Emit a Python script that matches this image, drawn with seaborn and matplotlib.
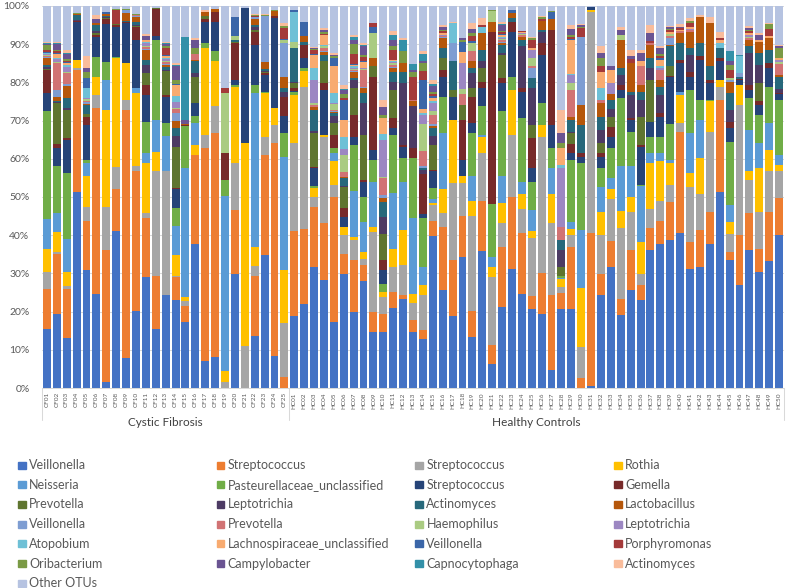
import numpy as np
import pandas as pd
import matplotlib.pyplot as plt
from matplotlib.patches import Rectangle
import seaborn as sns

cf_samples = ['CF01', 'CF02', 'CF03', 'CF04', 'CF05', 'CF06', 'CF07', 'CF08', 'CF09', 'CF10',
              'CF11', 'CF12', 'CF13', 'CF14', 'CF15', 'CF16', 'CF17', 'CF18', 'CF19', 'CF20',
              'CF21', 'CF22', 'CF23', 'CF24', 'CF25']
hc_samples = ['HC01', 'HC02', 'HC03', 'HC04', 'HC05', 'HC06', 'HC07', 'HC08', 'HC09', 'HC10',
              'HC11', 'HC12', 'HC13', 'HC14', 'HC15', 'HC16', 'HC17', 'HC18', 'HC19', 'HC20',
              'HC21', 'HC22', 'HC23', 'HC24', 'HC25', 'HC26', 'HC27', 'HC28', 'HC29', 'HC30',
              'HC31', 'HC32', 'HC33', 'HC34', 'HC35', 'HC36', 'HC37', 'HC38', 'HC39', 'HC40',
              'HC41', 'HC42', 'HC43', 'HC44', 'HC45', 'HC46', 'HC47', 'HC48', 'HC49', 'HC50']
samples = cf_samples + hc_samples

# relative abundance (%) per OTU, CF01..CF25 then HC01..HC50
veillonella_1 = [15.5, 19.4, 13.1, 51.4, 30.9, 24.6, 1.6, 41.0, 7.9, 20.1, 29.1, 15.5, 24.3, 23.0, 17.4, 37.6, 7.1, 8.1, 0, 29.8, 0, 13.5, 34.7, 8.3, 0,
                 18.8, 22.0, 31.6, 28.3, 17.4, 29.8, 19.8, 28.1, 14.7, 14.7, 20.9, 23.2, 14.7, 12.8, 39.9, 25.7, 18.8, 34.4, 13.4, 35.9, 6.2, 21.3, 31.1, 24.6, 20.6, 19.3, 4.7, 20.6, 20.6, 0, 0.4, 24.3, 31.7, 19.1, 25.7, 23.1, 36.1, 37.8, 38.7, 40.5, 31.1, 31.8, 37.7, 51.4, 33.5, 26.9, 36.1, 30.4, 33.2, 40.1]
streptococcus_1 = [10.4, 15.7, 12.8, 31.9, 12.9, 48.8, 34.4, 11.0, 64.9, 36.6, 15.5, 13.9, 0, 6.0, 4.1, 23.4, 55.7, 58.6, 0, 16.7, 0, 15.7, 26.3, 55.8, 2.8,
                   22.4, 19.6, 15.7, 14.8, 32.7, 5.3, 13.7, 4.1, 5.3, 4.8, 4.3, 1.1, 3.1, 2.4, 3.8, 16.5, 14.7, 10.5, 6.8, 13.1, 5.1, 15.7, 18.8, 15.9, 3.5, 10.9, 19.6, 4.2, 16.4, 2.7, 40.1, 5.5, 6.8, 4.1, 10.4, 3.8, 5.7, 5.9, 10.1, 26.6, 7.2, 9.6, 8.5, 24.0, 2.1, 13.1, 9.6, 5.9, 12.9, 9.7]
streptococcus_2 = [4.4, 0.6, 0.8, 0.5, 3.7, 3.3, 11.3, 5.8, 2.6, 1.3, 1.1, 27.3, 32.4, 0.4, 1.3, 0, 3.5, 7.0, 1.5, 12.3, 11.0, 2.8, 4.8, 4.8, 14.2,
                   22.9, 37.3, 2.8, 22.7, 3.0, 5.0, 5.2, 1.6, 20.9, 4.2, 6.4, 7.9, 4.5, 9.1, 4.2, 3.5, 20.2, 8.8, 24.7, 12.5, 17.7, 6.1, 16.4, 6.3, 15.1, 35.6, 18.8, 1.7, 3.0, 8.1, 57.8, 10.3, 10.9, 18.6, 10.1, 2.9, 5.0, 5.3, 4.3, 2.2, 14.2, 9.3, 20.9, 3.5, 4.6, 34.1, 8.8, 9.8, 10.6, 6.9]
rothia = [6.0, 5.2, 3.7, 2.1, 7.9, 4.8, 25.5, 28.5, 9.6, 19.2, 13.1, 5.2, 0, 5.4, 1.0, 2.6, 22.7, 11.8, 2.9, 20.1, 53.1, 5.0, 11.4, 4.3, 14.0,
          12.6, 4.2, 2.2, 0.4, 6.2, 2.1, 0.7, 1.9, 1.3, 1.5, 4.7, 9.2, 2.3, 2.6, 0.6, 6.3, 16.5, 1.7, 4.1, 4.3, 2.6, 5.2, 11.7, 4.0, 2.0, 3.1, 7.7, 2.0, 1.7, 15.3, 0.7, 6.1, 2.6, 4.6, 3.9, 8.5, 12.0, 10.3, 5.7, 7.4, 3.7, 9.5, 7.9, 1.8, 3.2, 5.2, 2.2, 11.4, 5.6, 1.7]
neisseria = [7.9, 4.8, 8.5, 0, 3.4, 0, 7.9, 0, 0, 1.3, 2.7, 8.3, 9.3, 7.5, 33.7, 5.7, 0, 0, 45.8, 0, 0, 40.2, 0, 0, 29.6,
             0, 0, 0, 0, 2.2, 0, 12.2, 7.8, 11.8, 0, 14.7, 12.6, 19.8, 4.7, 0.9, 14.7, 0, 0, 6.4, 0.4, 2.8, 7.1, 0, 3.2, 5.4, 0, 6.7, 0.3, 1.8, 15.3, 0, 6.5, 2.9, 11.6, 7.9, 14.6, 2.7, 2.2, 0.9, 0.9, 10.5, 10.0, 0, 0, 4.5, 0, 10.9, 6.6, 7.0, 2.6]
pasteurellaceae = [28.3, 12.3, 17.3, 0, 0.9, 5.1, 4.7, 0.3, 0, 0, 8.2, 20.9, 3.3, 4.7, 11.0, 1.8, 1.3, 2.6, 4.3, 0.3, 0, 2.1, 0.4, 0, 6.1,
                   0.7, 0.6, 0.5, 0, 1.3, 0, 12.0, 6.6, 5.7, 2.0, 15.3, 6.2, 15.8, 12.8, 2.9, 9.6, 0, 0, 11.3, 7.5, 13.8, 17.0, 3.5, 16.6, 7.4, 5.6, 5.3, 0.5, 16.2, 17.4, 0, 4.8, 7.9, 17.9, 9.1, 0.3, 4.3, 4.3, 9.3, 0, 11.3, 5.2, 0.4, 0, 16.6, 0, 8.3, 7.4, 9.6, 14.4]
streptococcus_3 = [4.8, 4.8, 8.8, 10.0, 9.2, 5.2, 9.8, 7.9, 10.5, 12.6, 7.0, 1.1, 7.0, 5.0, 0, 3.4, 5.6, 7.8, 0, 1.3, 35.3, 10.5, 4.4, 23.6, 4.4,
                   0.3, 2.6, 4.7, 11.8, 0, 2.6, 2.2, 3.9, 2.6, 3.7, 1.7, 3.0, 0, 1.1, 4.4, 5.2, 6.1, 4.3, 2.6, 4.8, 0, 7.4, 11.8, 7.0, 3.5, 12.7, 6.1, 0, 1.8, 1.7, 0.8, 3.1, 3.0, 2.1, 3.1, 10.0, 3.9, 5.2, 12.5, 7.4, 3.5, 10.5, 4.4, 4.8, 3.5, 1.4, 2.1, 2.6, 4.8, 1.6]
gemella = [6.0, 1.1, 0.5, 0.3, 2.1, 0.7, 1.3, 0.5, 0.3, 3.4, 2.6, 7.0, 0.5, 0.3, 0.3, 0, 0.6, 2.6, 7.0, 9.8, 0.2, 3.5, 0.5, 0.5, 5.2,
           0.8, 3.5, 0.3, 1.8, 3.5, 2.2, 5.7, 0.5, 19.2, 2.6, 2.6, 0.3, 2.6, 10.5, 0.3, 1.8, 0, 10.5, 7.0, 1.7, 45.0, 1.3, 2.6, 0.9, 7.9, 3.1, 24.8, 0, 2.5, 1.0, 0, 0.9, 2.6, 1.3, 0.6, 0.5, 0, 0.9, 0.3, 0.9, 1.3, 0.9, 0.9, 0.9, 1.7, 0.3, 1.3, 0.9, 1.3, 0.3]
prevotella_1 = [0.2, 10.7, 7.3, 0, 0.6, 0.5, 0.3, 0.4, 0, 0.3, 3.1, 0.3, 6.2, 10.7, 0, 7.0, 1.0, 0, 0, 0.3, 0, 0.3, 0.3, 0, 0,
                1.3, 0, 8.9, 5.7, 3.0, 5.7, 7.0, 11.8, 2.7, 6.8, 7.4, 0, 0, 0, 6.6, 3.0, 1.7, 3.9, 2.2, 3.5, 0, 6.1, 0, 0, 3.5, 0, 0, 2.5, 2.7, 0, 0, 2.6, 2.6, 0, 0, 7.3, 11.0, 0, 2.4, 0, 0, 0, 0, 0, 0, 0, 0, 4.8, 0, 0]
leptotrichia_1 = [0.5, 0.3, 0.4, 0.2, 0, 0.5, 0.3, 0, 0, 0.3, 2.2, 0, 0.3, 3.0, 0, 1.0, 0, 0, 0, 0, 0, 1.0, 0.3, 0, 1.3,
                  0.3, 0, 0.7, 0, 1.8, 0.3, 2.0, 8.2, 0, 4.4, 2.2, 16.3, 10.9, 1.0, 2.4, 0, 0, 0, 3.9, 1.8, 0, 0.5, 0, 10.9, 9.6, 3.0, 0, 4.3, 0.3, 0, 0, 3.5, 2.0, 2.7, 5.9, 4.4, 3.0, 4.8, 0, 0, 4.4, 0, 0, 0, 3.1, 0, 8.3, 4.8, 0, 1.0]
actinomyces_1 = [0.5, 0.3, 2.8, 1.2, 2.5, 1.5, 0.3, 0, 0.3, 0.6, 1.3, 0, 0.8, 2.0, 0, 3.0, 0, 0, 0, 0.4, 0, 0.3, 0.3, 0, 0.9,
                 8.8, 0.7, 5.4, 1.7, 0.9, 2.0, 0.7, 2.7, 0, 4.1, 2.6, 3.0, 0, 0.5, 2.0, 2.7, 7.5, 0, 1.3, 3.0, 0, 2.1, 0.9, 1.7, 2.6, 0.3, 0, 2.6, 3.2, 7.4, 0, 3.4, 2.4, 1.7, 0.9, 2.0, 2.6, 2.2, 5.2, 4.4, 1.7, 3.5, 3.5, 2.5, 4.4, 0.5, 1.8, 3.0, 3.5, 3.1]
lactobacillus = [1.8, 0.9, 3.0, 0.2, 0.3, 0.5, 0.6, 0, 2.0, 1.4, 2.6, 0, 0.5, 2.0, 0.2, 0.3, 1.0, 0.8, 0, 0, 0, 1.8, 2.0, 1.3, 3.0,
                 0, 1.7, 0.7, 0.8, 0.3, 0.3, 1.5, 1.3, 2.1, 0.9, 0.9, 2.2, 1.3, 0, 0.5, 2.6, 0, 0, 1.8, 4.4, 2.5, 0.5, 1.3, 0.9, 0, 2.6, 2.9, 0, 0.8, 5.2, 0, 3.5, 1.6, 7.4, 7.4, 2.0, 3.5, 1.8, 0.5, 2.6, 4.4, 6.9, 11.3, 0, 3.0, 0, 1.7, 3.1, 3.1, 0.5]
veillonella_2 = [0.3, 1.9, 0.5, 0, 0.5, 0, 0, 0, 0.8, 0.3, 0.3, 0, 0.3, 2.0, 0, 0, 0, 0, 0, 0, 0, 0.3, 12.0, 0, 8.8,
                 0, 0, 0, 0.3, 0.3, 0, 0.3, 0.3, 0, 0.8, 0.3, 0, 0, 0.5, 0.5, 0.3, 4.8, 0, 0, 0, 0, 0.3, 0, 0, 2.6, 0, 0, 0, 0, 17.9, 0, 0, 0, 0, 0, 0, 0, 0, 1.7, 0, 0, 0, 0, 0, 0.3, 1.0, 0, 0, 0, 0]
prevotella_2 = [0.4, 7.0, 3.0, 0, 0.3, 0, 0, 0, 0, 0.3, 0.5, 0, 0.5, 1.0, 0, 1.7, 0, 0, 0, 0, 0, 0, 0, 0, 0,
                0, 0, 0.7, 0.8, 0.3, 1.2, 0.3, 4.5, 0, 4.5, 0.5, 0, 0.4, 4.0, 2.5, 0.3, 0, 2.9, 2.6, 0, 0, 0.5, 0, 0.3, 0.5, 0, 0, 3.5, 7.0, 0, 0, 0.9, 0, 0, 0, 4.8, 0.5, 2.6, 0.5, 0.5, 0.3, 0, 0, 0, 0, 0, 0.5, 0, 0, 3.0]
haemophilus = [0.2, 0.3, 0.3, 0, 0.4, 0, 0, 0, 0, 0, 0.3, 0, 0.3, 0.3, 0, 0, 0, 0, 15.7, 1.2, 0, 0, 0, 0, 0.7,
               1.7, 0, 0.3, 0.5, 1.5, 4.5, 0.3, 0.3, 6.6, 0.3, 0.5, 0, 0, 7.0, 1.0, 0, 0, 1.2, 2.2, 0, 3.0, 0.3, 0, 0.3, 2.1, 0, 0, 0, 1.8, 0, 0, 0, 0, 1.3, 0, 0, 0, 0, 0.5, 0, 0, 0, 0, 0, 0.7, 0, 0.3, 0, 0, 0.5]
leptotrichia_2 = [0.2, 0.9, 1.2, 0, 0.3, 0, 0, 0, 0, 0, 0.8, 0, 0.3, 1.5, 0, 0, 0, 0, 0, 0, 0, 0, 0, 0, 0,
                  0, 0, 6.2, 0, 0.3, 1.5, 0.3, 0.3, 0, 9.7, 0.3, 0, 0, 2.5, 2.0, 0.3, 0, 6.8, 0, 0, 0, 0.3, 0, 0.3, 2.2, 0, 0, 15.3, 2.1, 0, 0, 0, 2.8, 0, 0, 0, 0, 0.5, 0, 0, 0.3, 0, 0, 0, 0, 0, 0.5, 0, 0, 0.5]
atopobium = [0.2, 0.3, 0.5, 0, 2.7, 0, 0, 0, 0, 0, 0.3, 0, 0.3, 1.7, 0, 0, 0, 0, 0, 0, 0, 0, 0, 0, 0,
             7.8, 0, 3.0, 0.3, 2.6, 3.3, 0.3, 0, 0, 1.5, 0.3, 0, 0, 0.5, 0.5, 0, 5.2, 0, 0, 1.7, 0, 0.3, 0, 0, 0, 0, 0, 0.9, 0.4, 0, 0, 3.1, 0, 0, 0, 0, 0, 0.6, 0, 0, 0, 0, 0, 1.3, 0, 4.3, 0, 0, 0, 0]
lachnospiraceae = [0.2, 1.0, 0.5, 0, 0, 0, 0, 0, 0, 0, 0.5, 0, 0.5, 2.7, 0, 0, 0, 0, 0, 0, 0, 0, 0, 0, 0,
                   0, 0, 3.5, 2.6, 7.0, 4.4, 0.3, 1.5, 0, 4.1, 0.3, 0, 0, 1.0, 1.0, 0.5, 0, 3.0, 0, 0, 0, 0.3, 0, 0.3, 0.5, 0, 0, 4.4, 8.8, 0, 0, 4.3, 3.5, 0, 0, 1.3, 0, 1.5, 0.5, 0.3, 0.5, 0, 0, 1.0, 0, 0, 0.5, 0.5, 0.5, 0.5]
veillonella_3 = [0.2, 0.3, 0.3, 0, 2.6, 0, 0.3, 0, 0, 0, 0, 0, 0.3, 0.3, 0.2, 0, 0, 0, 0, 4.8, 0, 0, 0, 0, 0.3,
                 0.5, 3.7, 0.3, 0, 2.2, 5.2, 0.3, 0.3, 1.7, 0, 0, 0, 0, 7.5, 0.5, 0, 0, 2.5, 0.5, 0, 0, 0.3, 0.8, 0, 0, 0, 1.9, 0, 0.3, 0, 0, 0, 0, 0, 0, 0, 0, 0.5, 0, 0, 0, 0, 0, 0, 0, 0, 0, 0, 0, 0]
porphyromonas = [0.6, 0.3, 0.3, 0, 0, 0, 0, 3.5, 0, 0, 0, 0, 2.0, 0, 0, 0, 0, 0, 1.3, 0, 0, 0.3, 0, 0, 2.9,
                 0, 0, 1.0, 0.3, 0, 0.5, 2.7, 1.0, 0.9, 0, 2.6, 0, 6.1, 2.5, 0.5, 0.5, 0, 0, 1.3, 0.5, 0, 0.5, 0, 0.3, 2.2, 0.5, 0, 0, 0.5, 2.2, 0, 1.4, 0, 0, 1.0, 0, 0.6, 0.5, 0.5, 0.5, 1.2, 0, 0, 0.5, 2.1, 0, 0.5, 0, 1.9, 0]
oribacterium = [1.2, 0.3, 0.4, 0.3, 1.4, 0, 0, 0.3, 0.2, 0.3, 0, 0, 0.5, 1.0, 0, 1.5, 0, 0, 0, 0, 0, 0.4, 0.3, 0.3, 0.5,
                0, 0, 0.3, 0.3, 0.3, 1.0, 2.6, 0.5, 0, 0.9, 1.0, 3.1, 1.3, 2.0, 0.5, 0.3, 0, 0.5, 0.9, 0, 0.3, 0.3, 0, 0, 0.3, 0.5, 0.3, 1.3, 0.5, 0.3, 0, 2.1, 0, 0, 0, 0, 0, 0.5, 0.5, 0, 0.5, 0, 0, 0, 1.2, 0, 0.3, 0, 1.3, 2.5]
campylobacter = [0.3, 1.7, 1.5, 0, 1.3, 1.2, 0, 0, 0, 0, 1.0, 0, 0.5, 3.7, 1.0, 2.0, 0, 0, 0, 0, 0, 0, 0, 0, 0,
                 0, 0, 0.2, 0.6, 0.3, 1.0, 1.0, 2.2, 0, 2.1, 1.5, 0, 0.4, 0.5, 1.5, 0.8, 0, 0.5, 1.0, 0, 0, 1.5, 0, 0, 0, 0, 0, 2.6, 1.7, 0.5, 0, 1.3, 0.9, 1.3, 1.0, 2.2, 2.1, 1.5, 0.3, 0.3, 0, 0, 0, 0, 1.0, 0, 0.5, 1.3, 0, 0.5]
capnocytophaga = [0.3, 0.2, 0.2, 0.1, 0, 0, 0, 0, 0, 0, 0, 0, 0.3, 0.3, 21.8, 0, 0, 0, 0, 0, 0, 0, 0, 0, 0,
                  0, 0, 0, 0, 0, 0.5, 0.8, 0.5, 0, 0, 1.5, 3.0, 1.7, 2.0, 0.5, 0, 0, 0, 0, 0, 0, 0.3, 0, 0, 0, 0, 0, 0, 0, 0, 0, 0, 0, 0, 0, 0, 0, 0, 0, 0, 0, 0, 0, 0, 2.6, 0.4, 0, 0, 0, 0]
actinomyces_2 = [0.1, 0.3, 0.8, 0, 3.0, 1.0, 0, 0, 0, 0, 0.5, 0, 0.3, 0.5, 0, 0.5, 0.5, 0, 0, 0, 0, 0.3, 0.3, 0, 0.8,
                 0, 0, 0.3, 0.5, 0.6, 1.0, 0.4, 0.4, 0, 1.8, 1.0, 0.5, 0, 0.8, 1.0, 0.3, 0.4, 0, 1.5, 1.7, 0, 0.5, 0, 0, 0.3, 0.3, 0, 6.1, 0.9, 0.3, 0, 1.8, 0, 0.9, 1.5, 0.8, 2.0, 0.5, 0.3, 0.9, 0.7, 0.5, 1.7, 1.6, 0, 0, 0.5, 0.4, 0.2, 0.4]
other_otus = [9.5, 9.4, 11.5, 1.8, 13.1, 2.3, 1.7, 0.8, 0.9, 2.0, 7.3, 0.5, 9.3, 15.0, 8.0, 8.5, 1.0, 0.7, 21.5, 3.0, 0.4, 2.0, 2.0, 1.1, 4.5,
              1.1, 4.1, 10.7, 5.8, 12.3, 20.6, 7.7, 9.7, 4.5, 24.6, 6.5, 8.4, 15.1, 11.7, 19.5, 5.1, 4.1, 8.5, 4.5, 3.2, 1.0, 4.3, 1.1, 6.5, 8.2, 2.5, 1.2, 27.2, 5.0, 4.7, 0.2, 10.6, 15.8, 5.4, 11.5, 11.5, 5.0, 10.6, 5.3, 4.6, 3.2, 2.3, 2.8, 6.7, 11.9, 12.8, 5.3, 7.1, 4.5, 10.2]

series = [veillonella_1, streptococcus_1, streptococcus_2, rothia, neisseria, pasteurellaceae,
          streptococcus_3, gemella, prevotella_1, leptotrichia_1, actinomyces_1, lactobacillus,
          veillonella_2, prevotella_2, haemophilus, leptotrichia_2, atopobium, lachnospiraceae,
          veillonella_3, porphyromonas, oribacterium, campylobacter, capnocytophaga, actinomyces_2,
          other_otus]
labels = ['Veillonella', 'Streptococcus', 'Streptococcus', 'Rothia', 'Neisseria',
          'Pasteurellaceae_unclassified', 'Streptococcus', 'Gemella', 'Prevotella', 'Leptotrichia',
          'Actinomyces', 'Lactobacillus', 'Veillonella', 'Prevotella', 'Haemophilus', 'Leptotrichia',
          'Atopobium', 'Lachnospiraceae_unclassified', 'Veillonella', 'Porphyromonas', 'Oribacterium',
          'Campylobacter', 'Capnocytophaga', 'Actinomyces', 'Other OTUs']
colors = ['#4472C4', '#ED7D31', '#A5A5A5', '#FFC000', '#5B9BD5', '#70AD47',
          '#264478', '#772A2A', '#5F7530', '#4D3B64', '#27687B', '#B5570B',
          '#7E9DD2', '#D17374', '#AACB82', '#9C87C2', '#6EC0D6', '#F8AB70',
          '#3B66A8', '#A43A3A', '#7A9A45', '#6A5492', '#3390A8', '#F9BC9B',
          '#B6C3E1']

# long table, one row per sample and OTU (OTU names repeat, so use keys for hue)
keys = [f'otu{i:02d}' for i in range(len(series))]
rows = []
for key, vals in zip(keys, series):
    for pos, (s, v) in enumerate(zip(samples, vals)):
        rows.append((pos, s, key, v))
long = pd.DataFrame(rows, columns=['pos', 'sample', 'otu', 'value'])
long['pct'] = long['value'] / long.groupby('sample')['value'].transform('sum') * 100

sns.set_style('white')
plt.rcParams['font.family'] = ['Lato', 'DejaVu Sans']

W, H = 786, 588
fig = plt.figure(figsize=(W / 100, H / 100), dpi=100)
ax = fig.add_axes([42 / W, 1 - 388 / H, 742 / W, 382 / H])

# seaborn stacks the first hue level on top, so reverse to get Veillonella at the bottom
sns.histplot(data=long, x='pos', hue='otu', weights='pct', multiple='stack',
             discrete=True, shrink=0.8, hue_order=keys[::-1],
             palette=dict(zip(keys, colors)), linewidth=0, alpha=1,
             legend=False, ax=ax)

ax.set_xlim(-0.5, len(samples) - 0.5)
ax.set_ylim(0, 100)
ax.set_yticks(np.arange(0, 101, 10))
ax.yaxis.set_major_formatter(lambda v, p: f'{v:.0f}%')
ax.set_xticks(range(len(samples)), samples, rotation=90)
ax.tick_params(axis='both', length=0)
ax.tick_params(axis='y', labelsize=7.5, labelcolor='#595959', pad=9)
ax.tick_params(axis='x', labelsize=4.6, labelcolor='#595959', pad=3)
ax.grid(axis='y', color='#D9D9D9', lw=0.75)
ax.set_axisbelow(True)
sns.despine(ax=ax, left=True)
ax.spines['bottom'].set_color('#D9D9D9')
ax.spines['bottom'].set_linewidth(0.75)
ax.set(xlabel='', ylabel='')

# grouped category axis: separators and group names
trans = ax.get_xaxis_transform()
for xb in (-0.5, len(cf_samples) - 0.5, len(samples) - 0.5):
    ax.plot([xb, xb], [0, -32 / 382], transform=trans, clip_on=False, color='#D9D9D9', lw=0.75)
ax.text((len(cf_samples) - 1) / 2, -35 / 382, 'Cystic Fibrosis', transform=trans,
        ha='center', va='center', fontsize=8.5, color='#404040')
ax.text(len(cf_samples) + (len(hc_samples) - 1) / 2, -35 / 382, 'Healthy Controls', transform=trans,
        ha='center', va='center', fontsize=8.5, color='#404040')

# legend laid out row by row, four columns
for i, (lab, col) in enumerate(zip(labels, colors)):
    r, c = divmod(i, 4)
    px = 18 + 198.7 * c
    py = 465 + 19.7 * r
    fig.patches.append(Rectangle((px / W, 1 - (py + 3.5) / H), 7.5 / W, 7 / H,
                                 transform=fig.transFigure, color=col))
    fig.text((px + 11) / W, 1 - py / H, lab, va='center', ha='left', fontsize=9, color='#595959')

fig.savefig('out.png', dpi=100)
